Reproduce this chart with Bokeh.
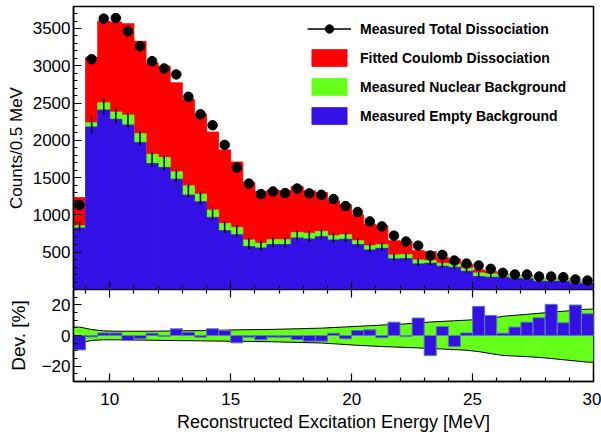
import numpy as np
from bokeh.plotting import figure
from bokeh.layouts import column
from bokeh.models import (ColumnDataSource, Range1d, FixedTicker, LinearAxis,
                          Legend, LegendItem)
from bokeh.embed import file_html
from bokeh.resources import INLINE

# ---------------- data ----------------
bin_edges = np.arange(8.5, 30.0001, 0.5)          # 43 bins of 0.5 MeV

measured_total = [1132, 3088, 3632, 3640, 3463, 3262, 3062, 2964, 2884, 2584,
                  2349, 2202, 1939, 1635, 1421, 1279, 1314, 1293, 1354, 1289,
                  1270, 1212, 1119, 1039, 913, 846, 722, 642, 588, 455,
                  464, 388, 348, 321, 277, 223, 201, 201, 174, 174,
                  165, 134, 120]
measured_total_err = [35, 56, 60, 60, 59, 57, 55, 54, 54, 51,
                      48, 47, 44, 40, 38, 36, 36, 36, 37, 36,
                      36, 35, 33, 32, 30, 29, 27, 25, 24, 21,
                      22, 20, 19, 18, 17, 15, 14, 14, 13, 13,
                      13, 12, 11]
fitted_coulomb_top = [1234, 3115, 3597, 3588, 3565, 3329, 3039, 2995, 2772, 2550,
                      2353, 2112, 1872, 1711, 1435, 1314, 1333, 1324, 1381, 1324,
                      1301, 1190, 1136, 1003, 878, 856, 655, 646, 521, 508,
                      432, 410, 343, 263, 245, 210, 187, 187, 143, 143,
                      151, 111, 111]
nuclear_top = [855, 2237, 2504, 2380, 2340, 2090, 1814, 1769, 1578, 1390,
               1279, 1066, 886, 833, 664, 619, 668, 668, 766, 753,
               780, 722, 735, 655, 588, 602, 464, 468, 397, 388,
               352, 343, 285, 223, 210, 201, 187, 174, 143, 130,
               143, 107, 107]
nuclear_err = [65, 110, 110, 105, 100, 100, 105, 100, 95, 90,
               90, 85, 80, 80, 75, 70, 70, 70, 70, 70,
               70, 68, 68, 65, 60, 60, 50, 50, 48, 45,
               45, 42, 40, 38, 35, 35, 33, 32, 30, 30,
               30, 28, 28]
empty_top = [825, 2179, 2407, 2282, 2206, 1970, 1689, 1635, 1480, 1266,
             1177, 967, 789, 735, 575, 557, 602, 602, 691, 678,
             709, 664, 673, 602, 531, 552, 410, 414, 343, 352,
             312, 298, 245, 174, 165, 165, 151, 143, 111, 111,
             111, 84, 84]

deviation = [-9.4, -0.9, 1.7, 1.7, -3.3, -2.2, 1.5, -0.7, 4.4, 2.2,
             -1.1, 4.4, 3.3, -4.8, -1.1, -2.8, -1.1, -1.1, -2.6, -3.7,
             -3.7, 1.5, -2.2, 3.3, 3.7, -1.5, 8.7, -0.7, 11.4, -13.1,
             5.9, -7.2, 1.7, 19.0, 13.1, 1.5, 5.5, 8.7, 11.6, 20.3,
             8.3, 19.9, 14.2]
band_upper = [5.5, 3.9, 3.0, 2.8, 2.8, 2.8, 2.8, 2.9, 3.0, 3.1,
              3.2, 3.4, 3.5, 3.7, 3.8, 3.9, 4.0, 4.2, 4.4, 4.6,
              4.8, 5.2, 5.6, 6.0, 6.4, 6.8, 7.2, 7.6, 8.2, 8.8,
              9.2, 9.6, 10.0, 10.5, 11.2, 12.5, 13.2, 13.8, 14.5, 15.2,
              15.8, 16.5, 17.2]
band_lower = [-5.0, -3.2, -2.8, -2.8, -2.9, -3.0, -3.1, -3.2, -3.3, -3.4,
              -3.5, -3.6, -3.7, -3.8, -3.9, -4.0, -4.1, -4.3, -4.5, -4.7,
              -4.9, -5.4, -5.9, -6.4, -6.8, -7.2, -7.5, -7.8, -8.1, -8.5,
              -8.8, -9.2, -9.6, -10.5, -11.8, -13.0, -13.4, -13.8, -14.3, -15.0,
              -15.8, -16.6, -17.4]

x_major = [10, 15, 20, 25, 30]
x_minor = [9, 11, 12, 13, 14, 16, 17, 18, 19, 21, 22, 23, 24, 26, 27, 28, 29]
y_top_major = [500, 1000, 1500, 2000, 2500, 3000, 3500]
y_top_minor = [v for v in range(100, 3800, 100)]
y_bot_major = [-20, 0, 20]
y_bot_minor = [-30, -25, -15, -10, -5, 5, 10, 15, 25, 30]

# ---------------- style ----------------
FONT = "Liberation Sans"
RED, GREEN, BLUE = "#ff0000", "#66ff1a", "#3311e6"
W = 601
XR = Range1d(8.5, 30)

left = bin_edges[:-1]
right = bin_edges[1:]
center = (left + right) / 2

src = ColumnDataSource(dict(
    left=left, right=right, x=center,
    data=measured_total, derr=measured_total_err,
    fit=fitted_coulomb_top, nuc=nuclear_top, emp=empty_top,
    nerr=nuclear_err, dev=deviation,
))
d = np.array(measured_total); de = np.array(measured_total_err)
nm = (np.array(nuclear_top) + np.array(empty_top)) / 2
ne = np.array(nuclear_err)
src.data.update(dlo=d - de, dhi=d + de, nlo=nm - ne, nhi=nm + ne)


def style_axis(ax, label_size="17px"):
    ax.axis_line_color = "black"
    ax.axis_line_width = 1.5
    ax.major_tick_in = 8
    ax.major_tick_out = 0
    ax.minor_tick_in = 4
    ax.minor_tick_out = 0
    ax.major_tick_line_width = 1.2
    ax.minor_tick_line_width = 1.2
    ax.major_tick_line_color = "black"
    ax.minor_tick_line_color = "black"
    ax.major_label_text_font = FONT
    ax.major_label_text_color = "black"
    ax.major_label_text_font_size = label_size
    ax.major_label_standoff = 3
    ax.axis_label_text_font = FONT
    ax.axis_label_text_font_style = "normal"
    ax.axis_label_text_color = "black"


def tick_only_axis(ticks, length):
    # an axis with no labels: only inward tick marks
    return LinearAxis(ticker=FixedTicker(ticks=[], minor_ticks=ticks),
                      axis_line_color=None, major_tick_line_color=None,
                      minor_tick_in=length, minor_tick_out=0,
                      minor_tick_line_color="black", minor_tick_line_width=1.2,
                      major_label_standoff=0, axis_label=None)


# ---------------- top panel ----------------
top = figure(width=W, height=289, x_range=XR, y_range=Range1d(0, 3795),
             output_backend="svg", toolbar_location=None,
             x_axis_location=None,
             min_border_left=73, min_border_right=8, min_border_top=6,
             min_border_bottom=0)
top.grid.visible = False
top.outline_line_color = "black"
top.outline_line_width = 1.5
top.background_fill_color = "white"

r_fit = top.quad(left="left", right="right", bottom=0, top="fit", source=src,
                 fill_color=RED, line_color=RED, line_width=0.8)
r_nuc = top.quad(left="left", right="right", bottom=0, top="nuc", source=src,
                 fill_color=GREEN, line_color=GREEN, line_width=0.8)
r_emp = top.quad(left="left", right="right", bottom=0, top="emp", source=src,
                 fill_color=BLUE, line_color=BLUE, line_width=0.8)
top.segment(x0="x", y0="nlo", x1="x", y1="nhi", source=src,
            line_color="black", line_width=1.5)
r_derr = top.segment(x0="x", y0="dlo", x1="x", y1="dhi", source=src,
                     line_color="black", line_width=1.5)
r_pts = top.scatter(x="x", y="data", source=src, size=9.5, marker="circle",
                    fill_color="black", line_color="black")

top.add_layout(tick_only_axis(x_major, 8), "below")
top.add_layout(tick_only_axis(x_minor, 4), "below")

top.yaxis.ticker = FixedTicker(ticks=y_top_major, minor_ticks=y_top_minor)
style_axis(top.yaxis[0])
top.yaxis.axis_label = "Counts/0.5 MeV"
top.yaxis.axis_label_text_font_size = "17px"
top.yaxis.axis_label_standoff = 4

legend = Legend(items=[
    LegendItem(label="Measured Total Dissociation", renderers=[r_derr, r_pts]),
    LegendItem(label="Fitted Coulomb Dissociation", renderers=[r_fit]),
    LegendItem(label="Measured Nuclear Background", renderers=[r_nuc]),
    LegendItem(label="Measured Empty Background", renderers=[r_emp]),
], location=(228, 157))
legend.label_text_font = FONT
legend.label_text_font_size = "14px"
legend.label_text_font_style = "bold"
legend.label_text_color = "black"
legend.glyph_width = 44
legend.glyph_height = 21
legend.label_height = 21
legend.label_standoff = 9
legend.spacing = 8
legend.padding = 6
legend.margin = 0
legend.border_line_alpha = 0
legend.background_fill_alpha = 0
top.add_layout(legend)

# ---------------- bottom panel ----------------
bot = figure(width=W, height=150, x_range=XR, y_range=Range1d(-30, 30),
             output_backend="svg", toolbar_location=None,
             min_border_left=73, min_border_right=8, min_border_top=0,
             min_border_bottom=58)
bot.grid.visible = False
bot.outline_line_color = "black"
bot.outline_line_width = 1.5

bx = [bin_edges[0]] + list(center) + [bin_edges[-1]]
bu = [band_upper[0]] + band_upper + [band_upper[-1]]
bl = [band_lower[0]] + band_lower + [band_lower[-1]]
bot.varea(x=bx, y1=bl, y2=bu, fill_color=GREEN)
bot.line(x=bx, y=bu, line_color="black", line_width=1)
bot.line(x=bx, y=bl, line_color="black", line_width=1)
bot.quad(left="left", right="right", bottom=0, top="dev", source=src,
         fill_color=BLUE, line_color="#5b7fa6", line_width=1)

bot.xaxis.ticker = FixedTicker(ticks=x_major, minor_ticks=x_minor)
style_axis(bot.xaxis[0])
bot.xaxis.major_label_standoff = 11
bot.xaxis.axis_label = "Reconstructed Excitation Energy [MeV]"
bot.xaxis.axis_label_text_font_size = "18px"
bot.xaxis.axis_label_standoff = 4

bot.add_layout(tick_only_axis(x_major, 8), "above")
bot.add_layout(tick_only_axis(x_minor, 4), "above")

bot.yaxis.ticker = FixedTicker(ticks=y_bot_major, minor_ticks=y_bot_minor)
style_axis(bot.yaxis[0])
bot.yaxis.axis_label = "Dev. [%]"
bot.yaxis.axis_label_text_font_size = "19px"
bot.yaxis.axis_label_standoff = 10

layout = column(top, bot, spacing=0)
open("out.html", "w").write(file_html(layout, INLINE))
